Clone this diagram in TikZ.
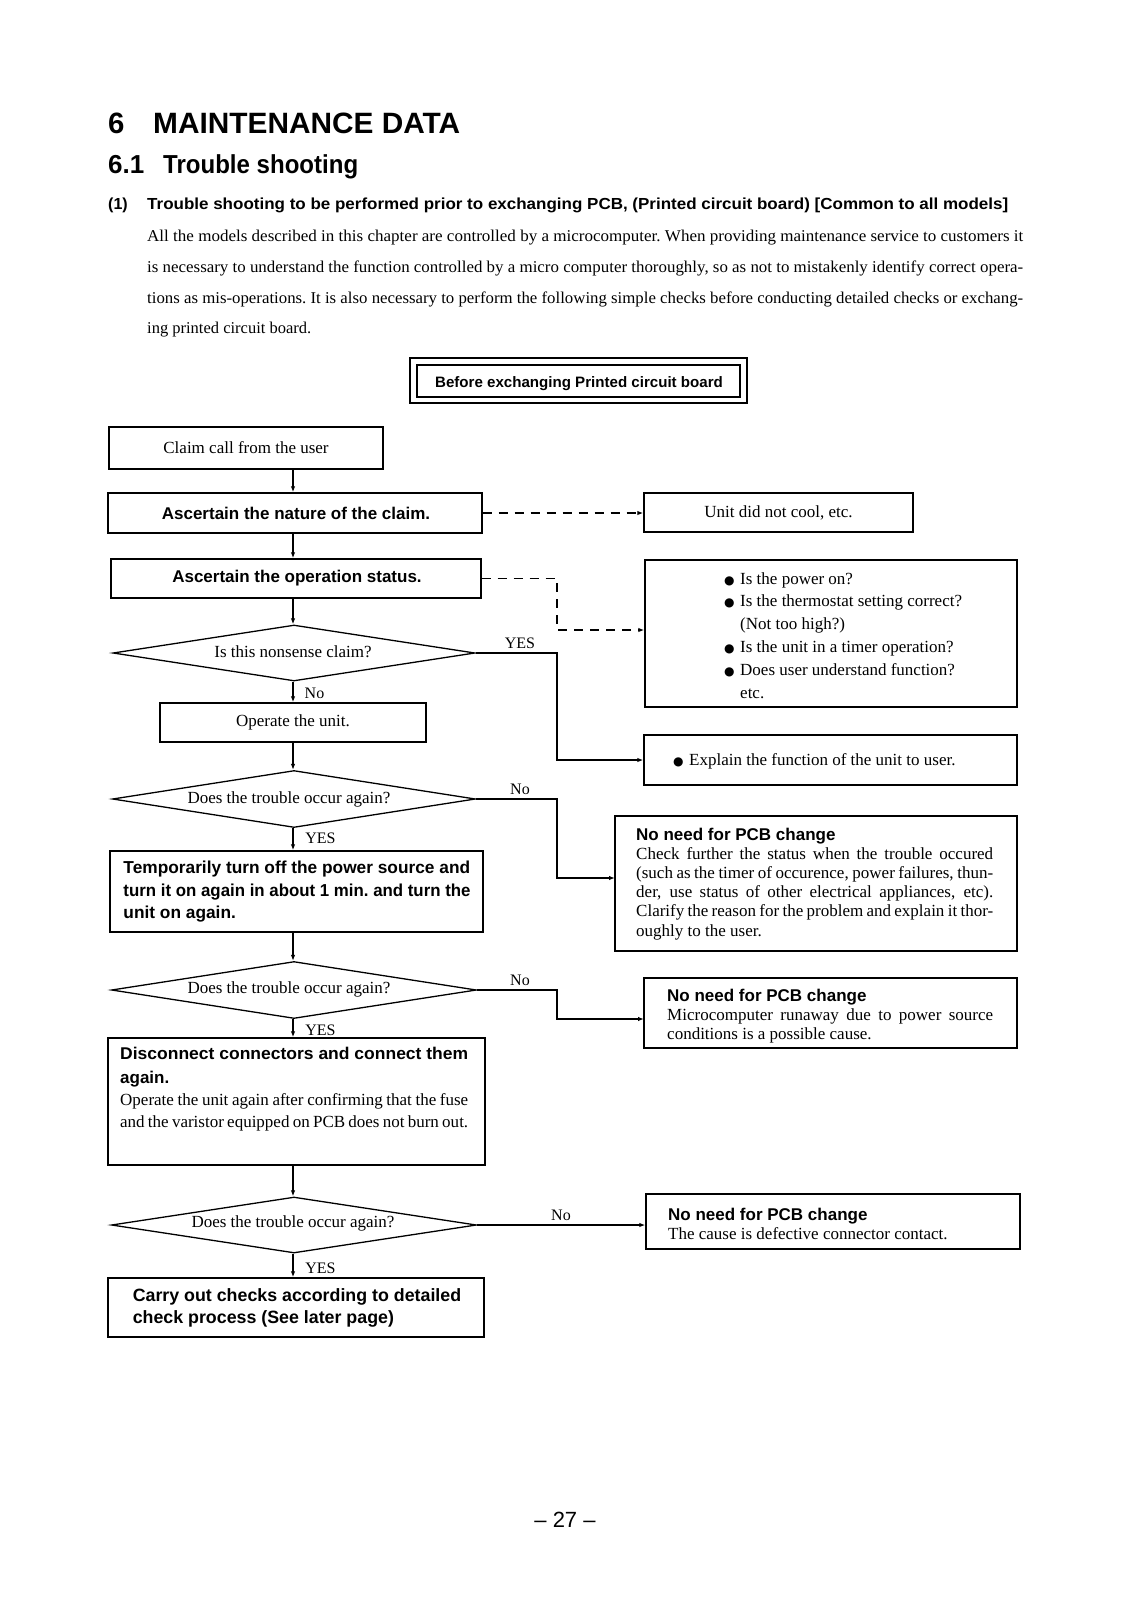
\documentclass[tikz,border=0pt]{standalone}
\usepackage{fontspec}
\usepackage{graphicx}
\setmainfont{Liberation Serif}
\setsansfont{Liberation Sans}
\newfontfamily\dejavu{DejaVu Sans}
\usetikzlibrary{shapes.geometric,arrows.meta,fit}
\newcommand\fitto[2]{\resizebox{#1}{\height}{#2}}
\newcommand\jl[2]{\makebox[#1][s]{#2}}
\newcommand\bul{\makebox[13pt][l]{\hspace{-3pt}\dejavu\fontsize{12}{12}\selectfont ●}}
\newcommand\mySer{\fontsize{17}{19.3}\selectfont\rmfamily}
\newcommand\myBold{\fontsize{17.3}{22.5}\selectfont\sffamily\bfseries\frenchspacing}
\newcommand\myHead{\fontsize{17}{17}\selectfont\sffamily\bfseries}
\newcommand\myLbl{\fontsize{16}{16}\selectfont\rmfamily}
\newcommand\myBody{\fontsize{16.5}{16.5}\selectfont\rmfamily\frenchspacing}
\begin{document}
\begin{tikzpicture}[x=1pt,y=-1pt,
  box/.style={draw, line width=1.4pt, inner sep=0pt},
  dia/.style={draw, diamond, line width=1.3pt, inner sep=0pt, aspect=1},
  arr/.style={line width=1.2pt, -{Latex[length=6pt,width=4.5pt]}},
  dasharr/.style={arr, dash pattern=on 9pt off 7pt},
  tx/.style={anchor=base west, inner sep=0pt},
  ctx/.style={inner sep=0pt},
  lbl/.style={inner sep=0pt, font=\myLbl},
]
\useasboundingbox[fill=white] (0,0) rectangle (1131,1600);

% ---------- headings ----------
\node[tx, font=\fontsize{29.4}{30}\selectfont\sffamily\bfseries] (h1num) at (108,133) {6};
\node[tx, font=\fontsize{29.4}{30}\selectfont\sffamily\bfseries] (h1) at (153,133) {\fitto{307pt}{MAINTENANCE DATA}};
\node[tx, font=\fontsize{26}{26}\selectfont\sffamily\bfseries] (h2num) at (108,173) {6.1};
\node[tx, font=\fontsize{26}{26}\selectfont\sffamily\bfseries] (h2) at (163,173) {\fitto{195pt}{Trouble shooting}};
\node[tx, font=\fontsize{16}{16}\selectfont\sffamily\bfseries] (h3num) at (108,209) {(1)};
\node[tx, font=\fontsize{16}{16}\selectfont\sffamily\bfseries] (h3) at (147,209) {\fitto{861pt}{Trouble shooting to be performed prior to exchanging PCB, (Printed circuit board) [Common to all models]}};

\node[tx, font=\myBody] (p1) at (147,241) {\fitto{876pt}{All the models described in this chapter are controlled by a microcomputer. When providing maintenance service to customers it}};
\node[tx, font=\myBody] (p2) at (147,272) {\fitto{876pt}{is necessary to understand the function controlled by a micro computer thoroughly, so as not to mistakenly identify correct opera-}};
\node[tx, font=\myBody] (p3) at (147,303) {\fitto{876pt}{tions as mis-operations. It is also necessary to perform the following simple checks before conducting detailed checks or exchang-}};
\node[tx, font=\myBody] (p4) at (147,333) {ing printed circuit board.};

% ---------- title box ----------
\node[box, line width=1.3pt, fit={(410,358)(747,403)}] (tbox) {};
\node[box, line width=1.3pt, fit={(417,365)(740,397)}] (title) {};
\node[tx, anchor=base, font=\fontsize{15.1}{16}\selectfont\sffamily\bfseries] (titlet) at (579,387) {Before exchanging Printed circuit board};

% ---------- helper columns ----------
\coordinate (spine) at (293,0);
\coordinate (col) at (557,0);

% ---------- left column ----------
\node[box, fit={(109,427)(383,469)}] (claim) {};
\node[ctx, font=\mySer] (claimt) at (claim.center) {Claim call from the user};
\node[box, fit={(108,493)(482,533)}] (nature) {};
\node[ctx, font=\myHead] (naturet) at (296,513) {Ascertain the nature of the claim.};
\node[box, fit={(111,559)(481,598)}] (opstat) {};
\node[ctx, font=\myHead] (opstatt) at (297,578) {Ascertain the operation status.};

\node[dia, minimum width=362pt, minimum height=56pt] (d1) at (294,653) {};
\node[ctx, font=\mySer] (d1t) at (293,652) {Is this nonsense claim?};

\node[box, fit={(160,703)(426,742)}] (operate) {};
\node[ctx, font=\mySer] (operatet) at (operate.center) {Operate the unit.};

\node[dia, minimum width=363pt, minimum height=57pt] (d2) at (294,799) {};
\node[ctx, font=\mySer] (d2t) at (289,799) {Does the trouble occur again?};

\node[box, fit={(110,851)(483,932)}] (temp) {};
\node[ctx, font=\myBold, align=left] (tempt) at (297,892) {Temporarily turn off the power source and\\\fitto{347pt}{turn it on again in about 1 min. and turn the}\\unit on again.};

\node[dia, minimum width=365pt, minimum height=57pt] (d3) at (294,990) {};
\node[ctx, font=\mySer] (d3t) at (289,989) {Does the trouble occur again?};

\node[box, fit={(108,1038)(485,1165)}] (disc) {};
\node[tx, font=\myHead] (disc1) at (120,1059) {\fitto{348pt}{Disconnect connectors and connect them}};
\node[tx, font=\myHead] (disc2) at (120,1083) {again.};
\node[tx, font=\mySer] (disc3) at (120,1105) {\jl{348pt}{Operate the unit again after confirming that the fuse}};
\node[tx, font=\mySer] (disc4) at (120,1127) {\jl{348pt}{and the varistor equipped on PCB does not burn out.}};

\node[dia, minimum width=365pt, minimum height=56pt] (d4) at (294,1225) {};
\node[ctx, font=\mySer] (d4t) at (293,1223) {Does the trouble occur again?};

\node[box, fit={(108,1278)(484,1337)}] (carry) {};
\node[ctx, font=\fontsize{17.8}{22.5}\selectfont\sffamily\bfseries, align=left] (carryt) at (297,1308) {Carry out checks according to detailed\\check process (See later page)};

% ---------- labels ----------
\node[lbl] (y1) at (520,643) {YES};
\node[lbl] (n1) at (314.5,693) {No};
\node[lbl] (n2) at (520,789) {No};
\node[lbl] (y2) at (320.5,838) {YES};
\node[lbl] (n3) at (520,980) {No};
\node[lbl] (y3) at (320.5,1030) {YES};
\node[lbl] (n4) at (561,1215) {No};
\node[lbl] (y4) at (320.5,1268) {YES};

% ---------- right column ----------
\node[box, fit={(644,493)(913,532)}] (unit) {};
\node[ctx, font=\mySer] (unitt) at (unit.center) {Unit did not cool, etc.};

\node[box, fit={(645,560)(1017,707)}] (bullets) {};
\node[tx, font=\mySer] (b1) at (727,584) {\bul Is the power on?};
\node[tx, font=\mySer] (b2) at (727,606.8) {\bul Is the thermostat setting correct?};
\node[tx, font=\mySer] (b3) at (727,629.6) {\hspace{13pt}(Not too high?)};
\node[tx, font=\mySer] (b4) at (727,652.4) {\bul Is the unit in a timer operation?};
\node[tx, font=\mySer] (b5) at (727,675.2) {\bul Does user understand function?};
\node[tx, font=\mySer] (b6) at (727,698) {\hspace{13pt}etc.};

\node[box, fit={(644,735)(1017,785)}] (explain) {};
\node[tx, font=\mySer] (explaint) at (676,765) {\bul Explain the function of the unit to user.};

\node[box, fit={(615,816)(1017,951)}] (nn1) {};
\node[tx, font=\myHead] (nn1h) at (636,840) {No need for PCB change};
\node[tx, font=\mySer] (nn1a) at (636,859) {\jl{357pt}{Check further the status when the trouble occured}};
\node[tx, font=\mySer] (nn1b) at (636,878) {\jl{357pt}{(such as the timer of occurence, power failures, thun-}};
\node[tx, font=\mySer] (nn1c) at (636,897) {\jl{357pt}{der, use status of other electrical appliances, etc).}};
\node[tx, font=\mySer] (nn1d) at (636,916) {\jl{357pt}{Clarify the reason for the problem and explain it thor-}};
\node[tx, font=\mySer] (nn1e) at (636,936) {oughly to the user.};

\node[box, fit={(644,978)(1017,1048)}] (nn2) {};
\node[tx, font=\myHead] (nn2h) at (667,1001) {No need for PCB change};
\node[tx, font=\mySer] (nn2a) at (667,1020) {\jl{326pt}{Microcomputer runaway due to power source}};
\node[tx, font=\mySer] (nn2b) at (667,1039) {conditions is a possible cause.};

\node[box, fit={(646,1194)(1020,1249)}] (nn3) {};
\node[tx, font=\myHead] (nn3h) at (668,1220) {No need for PCB change};
\node[tx, font=\mySer] (nn3a) at (668,1239) {The cause is defective connector contact.};

\coordinate (nn1in) at (615,878);
\coordinate (nn2in) at (644,1019);
\coordinate (bend1) at (557,630);

% ---------- connectors ----------
\draw[arr] (claim.south -| spine) -- (nature.north -| spine);
\draw[arr] (nature.south -| spine) -- (opstat.north -| spine);
\draw[arr] (opstat.south -| spine) -- (d1.north -| spine);
\draw[arr] (d1.south -| spine) -- (operate.north -| spine);
\draw[arr] (operate.south -| spine) -- (d2.north -| spine);
\draw[arr] (d2.south -| spine) -- (temp.north -| spine);
\draw[arr] (temp.south -| spine) -- (d3.north -| spine);
\draw[arr] (d3.south -| spine) -- (disc.north -| spine);
\draw[arr] (disc.south -| spine) -- (d4.north -| spine);
\draw[arr] (d4.south -| spine) -- (carry.north -| spine);

\draw[dasharr] (nature.east) -- (unit.west |- nature.east);
\draw[dasharr] (opstat.east) -| (bend1) -- (bend1 -| bullets.west);

\draw[arr] (d1.east) -- (d1.east -| col) |- (explain.west);
\draw[arr] (d2.east) -- (d2.east -| col) |- (nn1in);
\draw[arr] (d3.east) -- (d3.east -| col) |- (nn2in);
\draw[arr] (d4.east) -- (nn3.west |- d4.east);

% ---------- page number ----------
\node[anchor=base, inner sep=0pt, font=\fontsize{22}{22}\selectfont\sffamily] (pg) at (565,1527) {– 27 –};
\end{tikzpicture}
\end{document}
